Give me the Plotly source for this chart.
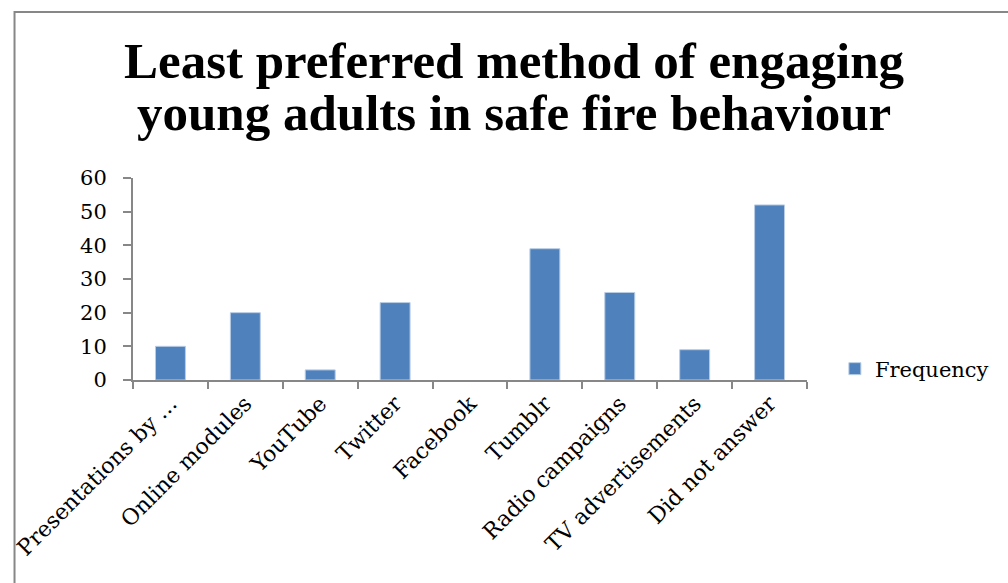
import plotly.graph_objects as go

categories = [
    "Presentations by ...",
    "Online modules",
    "YouTube",
    "Twitter",
    "Facebook",
    "Tumblr",
    "Radio campaigns",
    "TV advertisements",
    "Did not answer",
]
frequency = [10, 20, 3, 23, 0, 39, 26, 9, 52]
y_ticks = [0, 10, 20, 30, 40, 50, 60]
title_lines = ["Least preferred method of engaging", "young adults in safe fire behaviour"]

W, H = 1008, 583
L, R, T, B = 130, 201, 178, 203

serif = "DejaVu Serif, Liberation Serif, serif"
title_font = "Liberation Serif, DejaVu Serif, serif"
axis_grey = "#878787"

fig = go.Figure(
    go.Bar(
        x=categories,
        y=frequency,
        name="Frequency",
        marker=dict(
            color="#4F81BD",
            line=dict(color="#B9CDE5", width=[1 if v > 0 else 0 for v in frequency]),
        ),
        showlegend=True,
    )
)

pw, ph = W - L - R, H - T - B

# frame around the whole chart area
fig.add_shape(
    type="rect", xref="paper", yref="paper",
    x0=(11 - L) / pw, x1=(1030 - L) / pw,
    y0=(H - B - 600) / ph, y1=(H - B - 12) / ph,
    line=dict(color=axis_grey, width=2), fillcolor="rgba(0,0,0,0)", layer="below",
)

# two-line chart title
for line_text, y_mid in zip(title_lines, [61, 113]):
    fig.add_annotation(
        text=line_text, showarrow=False,
        xref="paper", yref="paper",
        x=(513 - L) / pw, xanchor="center",
        y=(H - B - y_mid) / ph, yanchor="middle",
        font=dict(family=title_font, size=51, color="black", weight="bold"),
    )

fig.update_layout(
    width=W, height=H,
    margin=dict(l=L, r=R, t=T, b=B),
    paper_bgcolor="white", plot_bgcolor="white",
    bargap=0.6,
    font=dict(family=serif, size=21, color="black"),
    xaxis=dict(
        type="category",
        tickangle=-45,
        tickson="boundaries",
        ticks="outside", ticklen=7, tickcolor=axis_grey, tickwidth=2,
        showline=True, linecolor=axis_grey, linewidth=2,
        showgrid=False,
        tickfont=dict(family=serif, size=22, color="black"),
    ),
    yaxis=dict(
        range=[0, 60],
        tickvals=y_ticks,
        ticks="outside", ticklen=8, tickcolor=axis_grey, tickwidth=2,
        ticklabelstandoff=12,
        showline=True, linecolor=axis_grey, linewidth=2,
        showgrid=False, zeroline=False,
        tickfont=dict(family=serif, size=21, color="black"),
    ),
    legend=dict(
        x=(835 - L) / pw, xanchor="left",
        y=(H - B - 369) / ph, yanchor="middle",
        font=dict(family=serif, size=21, color="black"),
        bgcolor="rgba(0,0,0,0)",
    ),
)

fig.write_html("out.html")
